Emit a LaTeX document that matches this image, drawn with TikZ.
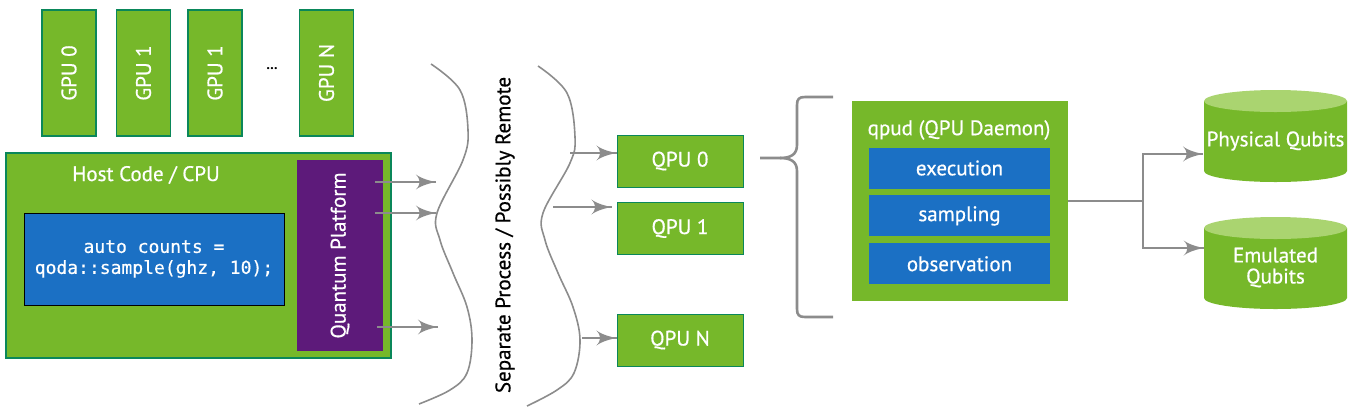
\documentclass[tikz,border=0pt]{standalone}
\usepackage{fontspec}
\setmainfont{PT Sans}
\setmonofont{DejaVu Sans Mono}
\newfontfamily\labelfam{PT Sans}[FakeBold=0.6]
\newfontfamily\codefam{DejaVu Sans Mono}[FakeBold=0.5]
\usepackage{tikz}
\usetikzlibrary{arrows}
\usetikzlibrary{decorations.markings}
\usetikzlibrary{positioning}
\definecolor{mgreen}{RGB}{118,184,42}
\definecolor{mlight}{RGB}{170,212,112}
\definecolor{mteal}{RGB}{10,135,90}
\definecolor{mblue}{RGB}{27,112,196}
\definecolor{mpurple}{RGB}{93,26,122}
\definecolor{mgray}{RGB}{140,140,140}
\newcommand{\labelfont}{\labelfam\fontsize{21}{21}\selectfont}
\tikzset{flow/.style = {mgray, line width=2.6, decoration={markings,
                                  mark=at position 1 with {\arrow[scale=1.9]{latex'}}},
                      postaction={decorate}}}
\tikzset{link/.style = {mgray, line width=2.6}}
\tikzset{wave/.style = {mgray, line width=1.6}}
\tikzset{brace/.style = {mgray, line width=2.6, line join=round}}
\tikzset{gpubox/.style = {draw=mteal, fill=mgreen, line width=1.7, rotate=90,
                          minimum width=126, minimum height=54}}
\tikzset{hostbox/.style = {draw=mteal, fill=mgreen, line width=1.7,
                           minimum width=385, minimum height=205}}
\tikzset{codebox/.style = {draw=black, fill=mblue, line width=1, align=center,
                           minimum width=260, minimum height=92,
                           font=\codefam\fontsize{18}{21}\selectfont}}
\tikzset{platbox/.style = {fill=mpurple, rotate=90, minimum width=191, minimum height=86}}
\tikzset{qpubox/.style = {draw=mteal, fill=mgreen, line width=1,
                          minimum width=126, minimum height=52}}
\tikzset{daemonbox/.style = {fill=mgreen, minimum width=216, minimum height=200}}
\tikzset{taskbox/.style = {fill=mblue, minimum width=181, minimum height=41}}
\tikzset{cyltext/.style = {minimum width=143, align=center}}
\newcommand{\qubitcyl}[2]{%
  \fill[mgreen] (#1-71.5,#2-35) -- (#1-71.5,#2+35)
    arc[start angle=180, end angle=0, x radius=71.5, y radius=11] -- (#1+71.5,#2-35) -- cycle;
  \fill[mlight] (#1,#2-35) ellipse [x radius=71.5, y radius=11];}

\begin{document}
\begin{tikzpicture}[x=1pt, y=-1pt, every node/.style={font=\labelfont, text=white}]
    \useasboundingbox (0,0) rectangle (1357,416);

    \node [gpubox] (gpu0) at (69,73) {GPU 0};
    \node [gpubox] (gpu1) at (143.5,73) {GPU 1};
    \node [gpubox] (gpu2) at (215,73) {GPU 1};
    \node [text=black, font=\bfseries\fontsize{14}{14}\selectfont] (dots) at (272,69) {…};
    \node [gpubox] (gpun) at (326.5,73) {GPU N};

    \node [hostbox] (host) at (198.5,255.5) {};
    \node (hosttitle) at (146,175) {Host Code / CPU};
    \node [codebox] (code) at (154,259) {auto counts =\\qoda::sample(ghz, 10);};
    \node [platbox] (plat) at (340,255.5) {Quantum Platform};

    \coordinate (s1) at (375,182);  \coordinate (e1) at (436,182);
    \coordinate (s2) at (375,213);  \coordinate (e2) at (436,213);
    \coordinate (s3) at (377,327);  \coordinate (e3) at (438,327);
    \draw [flow] (s1) -- (e1);
    \draw [flow] (s2) -- (e2);
    \draw [flow] (s3) -- (e3);

    \draw [wave] plot [smooth, tension=0.6] coordinates {(431,64) (460,90) (468,130) (463,160)
        (437,213) (440,240) (453,273) (467,307) (472,340) (467,373) (450,390) (419,404)};
    \draw [wave] plot [smooth, tension=0.6] coordinates {(538,66) (567,93) (575,137) (570,163)
        (543,213) (545,240) (558,273) (573,307) (580,340) (574,373) (557,390) (527,406)};
    \node [rotate=90, text=black] (remote) at (505,235) {Separate Process / Possibly Remote};

    \node [qpubox] (qpu0) at (680,161) {QPU 0};
    \node [qpubox] (qpu1) at (680,228.5) {QPU 1};
    \node [qpubox] (qpun) at (680,340) {QPU N};

    \coordinate (w0) at (570,153);
    \coordinate (w1) at (553,207);
    \coordinate (wn) at (582,338);
    \draw [flow] (w0) -- (w0 -| qpu0.west);
    \draw [flow] (w1) -- ([xshift=-5pt]w1 -| qpu1.west);
    \draw [flow] (wn) -- (wn -| qpun.west);

    \draw [brace] (833,97) -- (805,97) .. controls (799,97) and (797,99) .. (797,105)
        -- (797,145) .. controls (797,155) and (790,158) .. (780,158) -- (760,158);
    \draw [brace] (780,158) .. controls (790,158) and (797,161) .. (797,171)
        -- (797,309) .. controls (797,315) and (799,317) .. (805,317) -- (833,317);

    \node [daemonbox] (qpud) at (960,201) {};
    \node (qpudtitle) at (959,130) {qpud (QPU Daemon)};
    \node [taskbox] (exec) at (959.5,168) {execution};
    \node [taskbox, below=6.5pt of exec] (samp) {sampling};
    \node [taskbox, below=6.5pt of samp] (obs) {observation};

    \qubitcyl{1275.5}{136}
    \qubitcyl{1275.5}{263}
    \node [cyltext] (phys) at (1275.5,141) {Physical Qubits};
    \node [cyltext] (emu) at (1275.5,267.5) {Emulated\\Qubits};

    \coordinate (fork) at (1143,201);
    \draw [link] (qpud.east) -- (fork);
    \draw [flow] (fork) |- ([yshift=-13pt]phys.west);
    \draw [flow] (fork) |- ([yshift=19.5pt]emu.west);
\end{tikzpicture}
\end{document}
